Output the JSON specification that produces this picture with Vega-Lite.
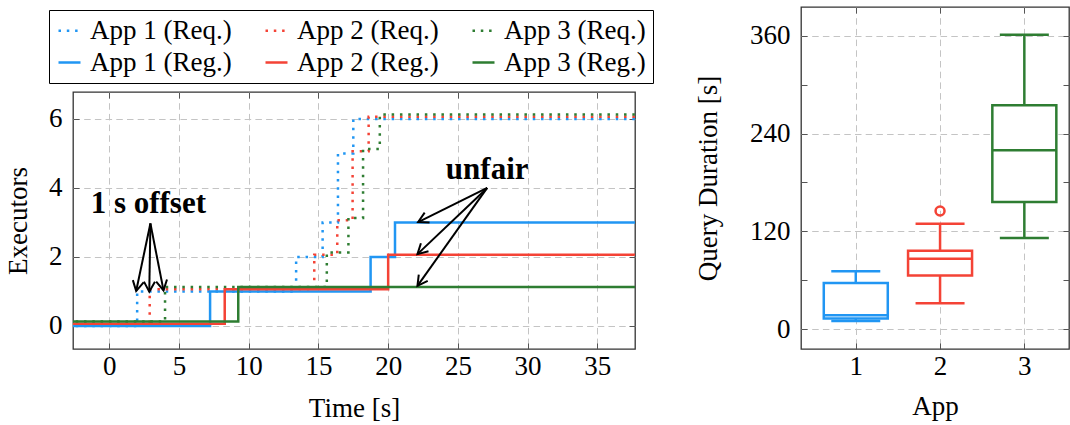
{
  "$schema": "https://vega.github.io/schema/vega-lite/v6.json",
  "padding": {"left": 3, "top": 5, "right": 0, "bottom": 0},
  "background": "white",
  "datasets": {
    "steps": [
      {"series": "App 1 (Req.)", "t": -3, "e": 0},
      {"series": "App 1 (Req.)", "t": 2, "e": 1},
      {"series": "App 1 (Req.)", "t": 13.4, "e": 2},
      {"series": "App 1 (Req.)", "t": 15.3, "e": 3},
      {"series": "App 1 (Req.)", "t": 16.4, "e": 5},
      {"series": "App 1 (Req.)", "t": 17.5, "e": 6},
      {"series": "App 1 (Req.)", "t": 38, "e": 6},
      {"series": "App 2 (Req.)", "t": -3, "e": 0.06},
      {"series": "App 2 (Req.)", "t": 2.9, "e": 1.06},
      {"series": "App 2 (Req.)", "t": 14.7, "e": 2.06},
      {"series": "App 2 (Req.)", "t": 16.35, "e": 3.06},
      {"series": "App 2 (Req.)", "t": 17.45, "e": 5.06},
      {"series": "App 2 (Req.)", "t": 18.6, "e": 6.06},
      {"series": "App 2 (Req.)", "t": 38, "e": 6.06},
      {"series": "App 3 (Req.)", "t": -3, "e": 0.13},
      {"series": "App 3 (Req.)", "t": 4, "e": 1.13},
      {"series": "App 3 (Req.)", "t": 15.6, "e": 2.13},
      {"series": "App 3 (Req.)", "t": 17.15, "e": 3.13},
      {"series": "App 3 (Req.)", "t": 18.2, "e": 5.13},
      {"series": "App 3 (Req.)", "t": 19.4, "e": 6.13},
      {"series": "App 3 (Req.)", "t": 38, "e": 6.13},
      {"series": "App 1 (Reg.)", "t": -3, "e": 0},
      {"series": "App 1 (Reg.)", "t": 7.23, "e": 1},
      {"series": "App 1 (Reg.)", "t": 18.74, "e": 2},
      {"series": "App 1 (Reg.)", "t": 20.49, "e": 3},
      {"series": "App 1 (Reg.)", "t": 38, "e": 3},
      {"series": "App 2 (Reg.)", "t": -3, "e": 0.06},
      {"series": "App 2 (Reg.)", "t": 8.28, "e": 1.06},
      {"series": "App 2 (Reg.)", "t": 20, "e": 2.06},
      {"series": "App 2 (Reg.)", "t": 38, "e": 2.06},
      {"series": "App 3 (Reg.)", "t": -3, "e": 0.13},
      {"series": "App 3 (Reg.)", "t": 9.25, "e": 1.13},
      {"series": "App 3 (Reg.)", "t": 38, "e": 1.13}
    ],
    "notes": [
      {"label": "1 s offset", "t": 2.8, "e": 3.54},
      {"label": "unfair", "t": 27.1, "e": 4.52}
    ],
    "arrows": [
      {"ox": 2.95, "oy": 2.97, "tx": 1.93, "ty": 1.01},
      {"ox": 2.95, "oy": 2.97, "tx": 2.87, "ty": 0.99},
      {"ox": 2.95, "oy": 2.97, "tx": 3.89, "ty": 1.03},
      {"ox": 27.1, "oy": 4.0, "tx": 22.15, "ty": 3.01},
      {"ox": 27.1, "oy": 4.0, "tx": 22.1, "ty": 2.08},
      {"ox": 27.1, "oy": 4.0, "tx": 22.1, "ty": 1.16}
    ],
    "boxes": [
      {"app": 1, "lower": 10.2, "q1": 13.5, "median": 17.5, "q3": 57, "upper": 71.4},
      {"app": 2, "lower": 32, "q1": 66, "median": 86.5, "q3": 96.5, "upper": 129.5},
      {"app": 3, "lower": 112, "q1": 156, "median": 219.5, "q3": 274.5, "upper": 361}
    ],
    "outliers": [
      {"app": 2, "v": 145}
    ]
  },
  "config": {
    "font": "Liberation Serif",
    "view": {"stroke": "#333333", "strokeWidth": 1.3},
    "axis": {
      "labelFont": "Liberation Serif", "labelFontSize": 27, "labelColor": "#000000",
      "titleFont": "Liberation Serif", "titleFontSize": 27, "titleFontWeight": "normal", "titleColor": "#000000",
      "domain": false, "ticks": true, "tickSize": -6, "tickColor": "#555555", "tickWidth": 1,
      "grid": true, "gridColor": "#c4c4c4", "gridDash": [6.5, 4.2], "gridWidth": 1
    },
    "legend": {
      "labelFont": "Liberation Serif", "labelFontSize": 27, "labelColor": "#000000",
      "symbolType": "stroke", "symbolSize": 484, "symbolStrokeWidth": 2.5,
      "labelOffset": 7, "columnPadding": 28, "rowPadding": 4, "padding": 7,
      "strokeColor": "#000000", "gridAlign": "all"
    }
  },
  "resolve": {"scale": {"color": "independent", "stroke": "independent", "strokeDash": "independent"}},
  "spacing": 38,
  "hconcat": [
    {
      "spacing": 0,
      "resolve": {"scale": {"color": "independent", "strokeDash": "independent"}},
      "vconcat": [
        {
          "width": 562,
          "height": 1,
          "view": {"stroke": null},
          "data": {"values": [{"d": 0}]},
          "mark": {"type": "point", "opacity": 0, "size": 0},
          "encoding": {}
        },
        {
          "width": 562,
          "height": 257,
          "resolve": {"axis": {"x": "independent", "y": "independent"}},
          "layer": [
            {
              "data": {"name": "steps"},
              "mark": {"type": "line", "interpolate": "step-after", "strokeWidth": 2.5, "clip": true},
              "encoding": {
                "x": {"field": "t", "type": "quantitative",
                      "scale": {"domain": [-2.6, 37.7], "nice": false, "zero": false},
                      "axis": {"orient": "bottom", "values": [0, 5, 10, 15, 20, 25, 30, 35], "labelPadding": 10, "titlePadding": 16},
                      "title": "Time [s]"},
                "y": {"field": "e", "type": "quantitative",
                      "scale": {"domain": [-0.67, 6.78], "nice": false, "zero": false},
                      "axis": {"orient": "left", "values": [0, 2, 4, 6], "labelPadding": 17, "titlePadding": 16},
                      "title": "Executors"},
                "color": {"field": "series", "type": "nominal",
                          "scale": {"domain": ["App 1 (Req.)", "App 2 (Req.)", "App 3 (Req.)", "App 1 (Reg.)", "App 2 (Reg.)", "App 3 (Reg.)"],
                                    "range": ["#2196F3", "#F44336", "#2E7D32", "#2196F3", "#F44336", "#2E7D32"]},
                          "legend": {"title": null, "orient": "none", "legendX": -24, "legendY": -82, "columns": 3, "direction": "horizontal"}},
                "strokeDash": {"field": "series", "type": "nominal",
                          "scale": {"domain": ["App 1 (Req.)", "App 2 (Req.)", "App 3 (Req.)", "App 1 (Reg.)", "App 2 (Reg.)", "App 3 (Reg.)"],
                                    "range": [[2.5, 5.8], [2.5, 5.8], [2.5, 5.8], [1, 0], [1, 0], [1, 0]]},
                          "legend": {"title": null, "orient": "none", "legendX": -24, "legendY": -82, "columns": 3, "direction": "horizontal"}}
              }
            },
            {
              "data": {"name": "arrows"},
              "mark": {"type": "rule", "color": "#000000", "strokeWidth": 2},
              "encoding": {
                "x": {"field": "ox", "type": "quantitative", "axis": null},
                "y": {"field": "oy", "type": "quantitative", "axis": null},
                "x2": {"field": "tx"},
                "y2": {"field": "ty"}
              }
            },
            {
              "data": {"name": "arrows"},
              "transform": [{"calculate": "atan2((datum.tx-datum.ox)*13.945, (datum.ty-datum.oy)*34.5)*180/PI", "as": "ang"}],
              "mark": {"type": "point", "shape": "M-0.55,1L0,0L0.55,1", "filled": false, "stroke": "#000000", "strokeWidth": 2, "size": 400, "opacity": 1},
              "encoding": {
                "x": {"field": "tx", "type": "quantitative", "axis": null},
                "y": {"field": "ty", "type": "quantitative", "axis": null},
                "angle": {"field": "ang", "type": "quantitative", "scale": null}
              }
            },
            {
              "data": {"name": "notes"},
              "mark": {"type": "text", "font": "Liberation Serif", "fontSize": 31, "fontWeight": "bold", "color": "#000000", "baseline": "middle", "align": "center"},
              "encoding": {
                "x": {"field": "t", "type": "quantitative",
                      "axis": {"orient": "top", "values": [0, 5, 10, 15, 20, 25, 30, 35], "labels": false, "grid": false, "title": null}},
                "y": {"field": "e", "type": "quantitative",
                      "axis": {"orient": "right", "values": [0, 2, 4, 6], "labels": false, "grid": false, "title": null}},
                "text": {"field": "label"}
              }
            }
          ]
        }
      ]
    },
    {
      "width": 268,
      "height": 342,
      "data": {"name": "boxes"},
      "resolve": {"axis": {"x": "independent", "y": "independent"}},
      "layer": [
        {
          "mark": {"type": "rule", "strokeWidth": 2.5},
          "encoding": {
            "x": {"field": "app", "type": "quantitative",
                  "scale": {"domain": [0.35, 3.53], "nice": false, "zero": false, "padding": 0},
                  "axis": {"orient": "bottom", "values": [1, 2, 3], "format": "d", "labelPadding": 10, "titlePadding": 14},
                  "title": "App"},
            "y": {"field": "lower", "type": "quantitative",
                  "scale": {"domain": [-24, 395], "nice": false, "zero": false, "padding": 0},
                  "axis": {"orient": "left", "values": [0, 60, 120, 180, 240, 300, 360], "labelPadding": 17, "titlePadding": 27,
                           "labelExpr": "datum.value % 120 === 0 ? datum.label : ''",
                           "gridOpacity": {"condition": {"test": "datum.value % 120 === 0", "value": 1}, "value": 0}},
                  "title": "Query Duration [s]"},
            "y2": {"field": "upper"},
            "stroke": {"field": "app", "type": "nominal", "scale": {"domain": [1, 2, 3], "range": ["#2196F3", "#F44336", "#2E7D32"]}, "legend": null}
          }
        },
        {
          "mark": {"type": "bar", "orient": "vertical", "size": 64, "fill": "white", "strokeWidth": 2.5},
          "encoding": {
            "x": {"field": "app", "type": "quantitative", "axis": null},
            "y": {"field": "q1", "type": "quantitative", "axis": null},
            "y2": {"field": "q3"},
            "stroke": {"field": "app", "type": "nominal", "legend": null}
          }
        },
        {
          "mark": {"type": "tick", "orient": "horizontal", "size": 64, "thickness": 2.5, "opacity": 1},
          "encoding": {
            "x": {"field": "app", "type": "quantitative", "axis": null},
            "y": {"field": "median", "type": "quantitative", "axis": null},
            "color": {"field": "app", "type": "nominal", "scale": {"domain": [1, 2, 3], "range": ["#2196F3", "#F44336", "#2E7D32"]}, "legend": null}
          }
        },
        {
          "mark": {"type": "tick", "orient": "horizontal", "size": 49, "thickness": 2.5, "opacity": 1},
          "encoding": {
            "x": {"field": "app", "type": "quantitative", "axis": null},
            "y": {"field": "lower", "type": "quantitative", "axis": null},
            "color": {"field": "app", "type": "nominal", "legend": null}
          }
        },
        {
          "mark": {"type": "tick", "orient": "horizontal", "size": 49, "thickness": 2.5, "opacity": 1},
          "encoding": {
            "x": {"field": "app", "type": "quantitative", "axis": null},
            "y": {"field": "upper", "type": "quantitative", "axis": null},
            "color": {"field": "app", "type": "nominal", "legend": null}
          }
        },
        {
          "data": {"name": "outliers"},
          "mark": {"type": "point", "shape": "circle", "filled": false, "size": 80, "strokeWidth": 2.5, "opacity": 1},
          "encoding": {
            "x": {"field": "app", "type": "quantitative",
                  "axis": {"orient": "top", "values": [1, 2, 3], "labels": false, "grid": false, "title": null}},
            "y": {"field": "v", "type": "quantitative",
                  "axis": {"orient": "right", "values": [0, 60, 120, 180, 240, 300, 360], "labels": false, "grid": false, "title": null}},
            "stroke": {"field": "app", "type": "nominal", "legend": null}
          }
        }
      ]
    }
  ]
}
